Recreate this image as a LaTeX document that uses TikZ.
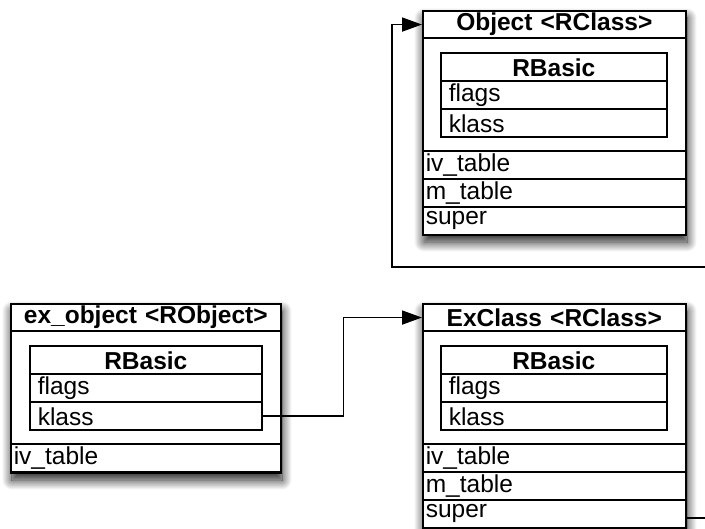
\documentclass[tikz,border=0pt]{standalone}
\usepackage{fontspec}
\setmainfont{Liberation Sans}
\usetikzlibrary{arrows.meta,shadows.blur}

\begin{document}
\begin{tikzpicture}[x=1pt,y=-1pt,
  box/.style={draw, fill=white, line width=2pt, anchor=north west, inner sep=0pt,
    blur shadow={shadow xshift=1pt, shadow yshift=-7pt, shadow blur radius=10pt, shadow blur steps=20, shadow opacity=90}},
  boxtitle/.style={draw, line width=1.6pt, anchor=north west, inner sep=0pt, align=center,
    minimum height=27.5pt, font=\fontsize{24.5}{27}\selectfont\bfseries},
  field/.style={draw, line width=1.6pt, anchor=north west, inner xsep=3pt, inner ysep=0pt,
    align=left, minimum height=28pt, font=\fontsize{24.5}{27}\selectfont},
  basicfield/.style={field, inner xsep=8pt},
  link/.style={line width=1.7pt, -{Triangle[length=20pt,width=14pt]}}]
\useasboundingbox (0,0) rectangle (705,529);
\clip (0,0) rectangle (705,529);

% Object <RClass>
\node[box, minimum width=263pt, minimum height=224pt] (object) at (422,10) {};
\node[boxtitle, text width=263pt] (objtitle) at (422,10) {Object <RClass>};
\node[boxtitle, minimum height=28pt, text width=226pt] (objbasic) at (440,52.5) {RBasic};
\node[basicfield, text width=210pt] (objflags) at (440,80.5) {flags};
\node[basicfield, text width=210pt] (objklass) at (440,108.5) {klass};
\node[field, text width=257pt] (objiv) at (422,150) {iv\_table};
\node[field, text width=257pt] (objm) at (422,178) {m\_table};
\node[field, text width=257pt] (objsuper) at (422,206) {super};

% ExClass <RClass>
\node[box, minimum width=263pt, minimum height=224pt] (exclass) at (422,303) {};
\node[boxtitle, text width=263pt] (exctitle) at (422,303) {ExClass <RClass>};
\node[boxtitle, minimum height=28pt, text width=226pt] (excbasic) at (440,345.5) {RBasic};
\node[basicfield, text width=210pt] (excflags) at (440,373.5) {flags};
\node[basicfield, text width=210pt] (excklass) at (440,401.5) {klass};
\node[field, text width=257pt] (exciv) at (422,443) {iv\_table};
\node[field, text width=257pt] (excm) at (422,471) {m\_table};
\node[field, text width=257pt] (excsuper) at (422,499) {super};

% ex_object <RObject>
\node[box, minimum width=270pt, minimum height=169pt] (exobject) at (10,303) {};
\node[boxtitle, text width=270pt] (extitle) at (10,303) {ex\_object <RObject>};
\node[boxtitle, minimum height=28pt, text width=232pt] (exbasic) at (29,345.5) {RBasic};
\node[basicfield, text width=216pt] (exflags) at (29,373.5) {flags};
\node[basicfield, text width=216pt] (exklass) at (29,401.5) {klass};
\node[field, text width=264pt] (exiv) at (10,443) {iv\_table};

% pointers
\draw[link] (exklass.east) -- ++(81,0) |- (exctitle.west);
\coordinate (loopright) at (730,267);
\coordinate (loopleft) at (392,267);
\draw[link] ([yshift=-4pt]excsuper.east) -| (loopright) -- (loopleft) |- (objtitle.west);
\end{tikzpicture}
\end{document}
